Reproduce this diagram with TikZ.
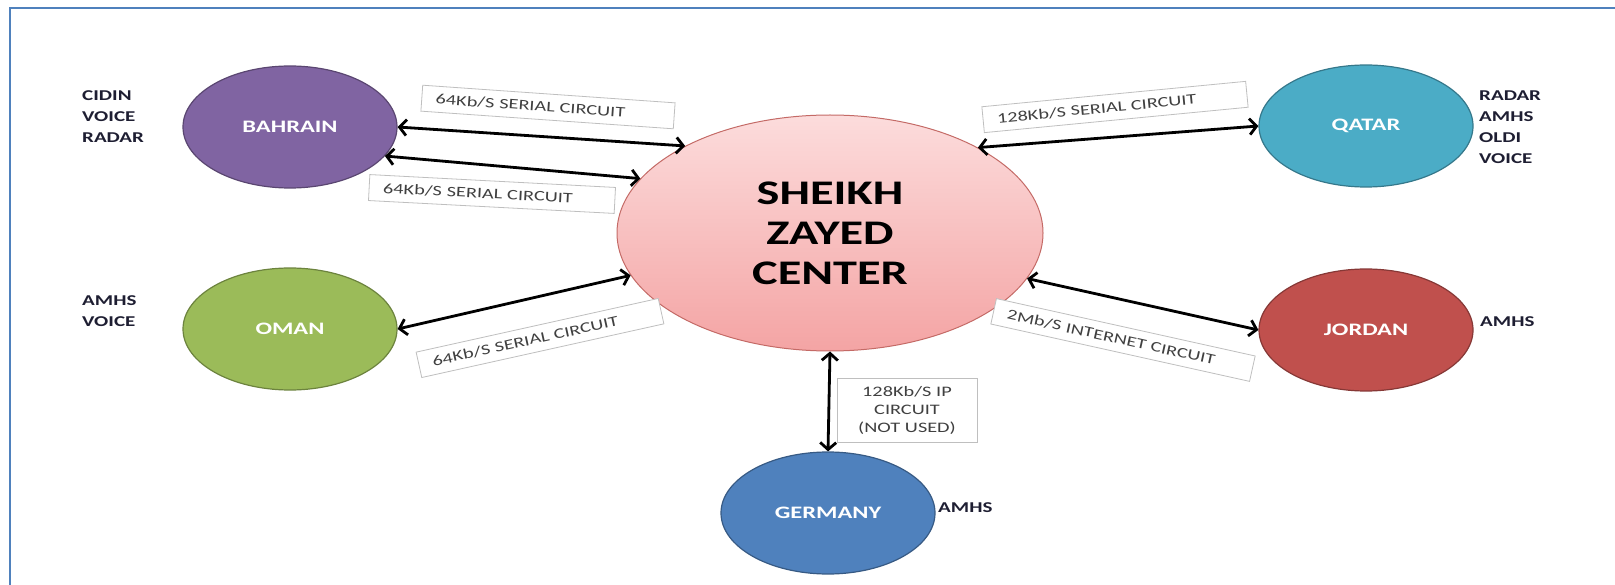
\documentclass[tikz,border=0pt]{standalone}
\usepackage{fontspec}
\setmainfont{Carlito}[FakeStretch=1.4]
\usetikzlibrary{shapes.geometric, arrows.meta, positioning}

\definecolor{frameblue}{HTML}{4F81BD}
\definecolor{bahfill}{HTML}{8064A2}
\definecolor{omanfill}{HTML}{9BBB59}
\definecolor{qatfill}{HTML}{4BACC6}
\definecolor{jorfill}{HTML}{C0504D}
\definecolor{gerfill}{HTML}{4F81BD}
\definecolor{hubtop}{HTML}{FCDCDC}
\definecolor{hubbot}{HTML}{F4A4A4}
\definecolor{hubedge}{HTML}{C46A66}
\definecolor{tagedge}{HTML}{BFBFBF}
\definecolor{infotext}{HTML}{1E1E32}

\tikzset{
  site/.style={ellipse, draw=#1!70!black, fill=#1, line width=1.2pt,
    minimum width=214pt, minimum height=122pt, inner sep=0pt,
    text=white, font=\fontsize{17.5}{20}\selectfont\bfseries},
  hub/.style={ellipse, draw=hubedge, line width=1pt,
    top color=hubtop, bottom color=hubbot,
    minimum width=426pt, minimum height=236pt, align=center,
    font=\fontsize{34.5}{40}\selectfont\bfseries},
  info/.style={anchor=west, align=left, inner sep=0pt, text=infotext,
    font=\fontsize{15}{21}\selectfont\bfseries},
  tag/.style={draw=tagedge, fill=white, line width=0.8pt, text=black!75,
    minimum height=26pt, inner xsep=14pt, text width=225pt, align=left,
    font=\fontsize{14.5}{18}\selectfont},
  link/.style={{Straight Barb[length=7pt,width=16pt]}-{Straight Barb[length=7pt,width=16pt]},
    line width=2.8pt},
}

\begin{document}
\begin{tikzpicture}[x=1pt, y=-1pt]
  \useasboundingbox (0,0) rectangle (1615,585);
  \draw[frameblue, line width=2.5pt] (10,585) |- (1615,8);

  % centres
  \node[hub] (szc) at (830,233) {SHEIKH\\ZAYED\\CENTER};
  \node[site=bahfill] (bahrain) at (290,127) {BAHRAIN};
  \node[site=omanfill] (oman) at (290,329) {OMAN};
  \node[site=qatfill] (qatar) at (1366,126) {QATAR};
  \node[site=jorfill] (jordan) at (1366,330) {JORDAN};
  \node[site=gerfill] (germany) at (828,513) {GERMANY};

  % services
  \node[info] (bahinfo) at (82,117) {CIDIN\\VOICE\\RADAR};
  \node[info] (omaninfo) at (82,311) {AMHS\\VOICE};
  \node[info] (qatinfo) at (1479,127) {RADAR\\AMHS\\OLDI\\VOICE};
  \node[info] (jorinfo) at (1480,322) {AMHS};
  \node[info] (gerinfo) at (938,508) {AMHS};

  % circuits
  \node[tag, rotate=-4] (bah1) at (548,107) {64Kb/S SERIAL CIRCUIT};
  \node[tag, rotate=-3, text width=218pt] (bah2) at (492,194) {64Kb/S SERIAL CIRCUIT};
  \node[tag, rotate=12.5, text width=220pt] (omanck) at (540,338) {64Kb/S SERIAL CIRCUIT};
  \node[tag, rotate=5.5, text width=237pt] (qatck) at (1115,107) {128Kb/S SERIAL CIRCUIT};
  \node[tag, rotate=-12.5, text width=237pt] (jorck) at (1123,340) {2Mb/S INTERNET CIRCUIT};
  \node[tag, text width=112pt, align=center, minimum height=64pt] (gerck) at (907,410)
    {128Kb/S IP\\CIRCUIT\\(NOT USED)};

  % links
  \draw (bahrain.0) edge[link] (szc.149.5)
        (bahrain.343) edge[link] (szc.164)
        (oman.0) edge[link] (szc.192.4)
        (szc.30.6) edge[link] (qatar.180)
        (szc.347.5) edge[link] (jordan.180)
        (szc.270) edge[link] (germany.90);
\end{tikzpicture}
\end{document}
